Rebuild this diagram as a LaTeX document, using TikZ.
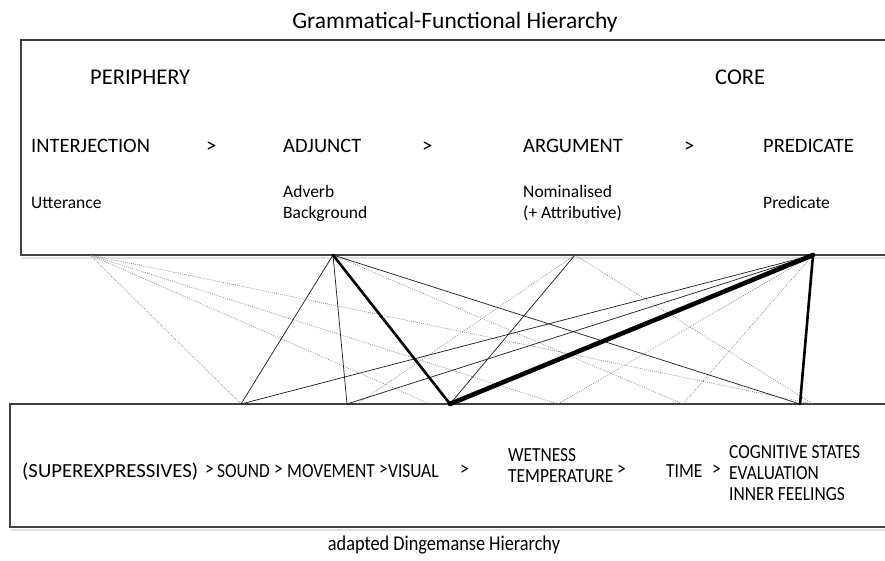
\documentclass[tikz,border=0pt]{standalone}
\usepackage{fontspec}
\setmainfont{Carlito}
\newfontfamily\narrowfont[FakeStretch=0.87]{Carlito}
\begin{document}
\begin{tikzpicture}[x=1pt,y=-1pt,
  frame/.style={draw=black!75,line width=1.1pt},
  shade/.style={draw=black!12,line width=2pt},
  title/.style={anchor=base,inner sep=0pt,font=\fontsize{23.5}{28}\selectfont},
  subtitle/.style={anchor=base,inner sep=0pt,font=\narrowfont\fontsize{21}{25}\selectfont},
  pole/.style={anchor=base west,inner sep=0pt,font=\fontsize{22.5}{27}\selectfont},
  role/.style={anchor=base west,inner sep=0pt,font=\fontsize{20.5}{24}\selectfont},
  gloss/.style={anchor=base west,inner sep=0pt,font=\fontsize{17.5}{21}\selectfont,align=left},
  sem/.style={anchor=base west,inner sep=0pt,font=\narrowfont\fontsize{20}{21}\selectfont,align=left},
  weak/.style={draw=black!55,line width=0.55pt,dash pattern=on 0.8pt off 1.2pt},
  thin/.style={draw=black!85,line width=0.75pt},
  bold/.style={draw=black,line width=2.6pt,line cap=round},
  heavy/.style={draw=black,line width=4.6pt,line cap=round}]
\useasboundingbox (0,0) rectangle (885,560);
\clip (0,0) rectangle (885,560);

% frames of the two hierarchies
\draw[shade] (22,257.5) -- (900,257.5);
\draw[shade] (11,529.5) -- (900,529.5);
\draw[frame] (21,40) rectangle (900,255);
\draw[frame] (10,404) rectangle (900,527);

% captions
\node[title] (gfh) at (455,28) {Grammatical-Functional Hierarchy};
\node[subtitle] (adh) at (444,550) {adapted Dingemanse Hierarchy};

% grammatical-functional scale
\node[pole] (peri) at (90,84) {PERIPHERY};
\node[pole] (core) at (715,84) {CORE};
\node[role] (interj) at (31,152) {INTERJECTION};
\node[role] (g1) at (206,152) {>};
\node[role] (adjunct) at (283,152) {ADJUNCT};
\node[role] (g2) at (422,152) {>};
\node[role] (argument) at (523,152) {ARGUMENT};
\node[role] (g3) at (684,152) {>};
\node[role] (predicate) at (763,152) {PREDICATE};
\node[gloss] (utt) at (31,208) {Utterance};
\node[gloss] (adv) at (283,218) {Adverb\\Background};
\node[gloss] (nom) at (523,218) {Nominalised\\(+ Attributive)};
\node[gloss] (pred) at (763,208) {Predicate};

% semantic scale
\node[sem] (superx) at (22,477) {\resizebox{176pt}{\height}{(SUPEREXPRESSIVES)}};
\node[sem] (h1) at (205,475) {>};
\node[sem] (sound) at (217,477) {SOUND};
\node[sem] (h2) at (274,475) {>};
\node[sem] (movement) at (287,477) {MOVEMENT};
\node[sem] (h3) at (379,475) {>};
\node[sem] (visual) at (388,477) {VISUAL};
\node[sem] (h4) at (460,475) {>};
\node[sem] (wettemp) at (508,482) {WETNESS\\TEMPERATURE};
\node[sem] (h5) at (617,475) {>};
\node[sem] (time) at (666,477) {TIME};
\node[sem] (h6) at (712,475) {>};
\node[sem] (cogn) at (729,500) {COGNITIVE STATES\\EVALUATION\\INNER FEELINGS};

% attachment points on the frames
\coordinate (iA) at (90,255);
\coordinate (aA) at (333,255);
\coordinate (rA) at (575,255);
\coordinate (pA) at (813,255);
\coordinate (sB) at (241,404);
\coordinate (mB) at (347,404);
\coordinate (mBd) at (357,404);
\coordinate (vB) at (450,404);
\coordinate (vBd) at (430,404);
\coordinate (wB) at (558,404);
\coordinate (tB) at (683,404);
\coordinate (cB) at (800,404);
\coordinate (cBd) at (813,404);

% weak links
\draw[weak] (iA) -- (sB);
\draw[weak] (iA) -- (vBd);
\draw[weak] (iA) -- (wB);
\draw[weak] (iA) -- (cBd);
\draw[weak] (aA) -- (tB);
\draw[weak] (rA) -- (mBd);
\draw[weak] (rA) -- (cBd);
\draw[weak] (pA) -- (wB);
\draw[weak] (pA) -- (tB);

% ordinary links
\draw[thin] (aA) -- (sB);
\draw[thin] (aA) -- (mB);
\draw[thin] (aA) -- (cB);
\draw[thin] (rA) -- (vB);
\draw[thin] (pA) -- (sB);
\draw[thin] (pA) -- (mB);

% strong links
\draw[bold] (aA) -- (vB);
\draw[bold] (pA) -- (cB);
\draw[heavy] (vB) -- (pA);
\end{tikzpicture}
\end{document}
